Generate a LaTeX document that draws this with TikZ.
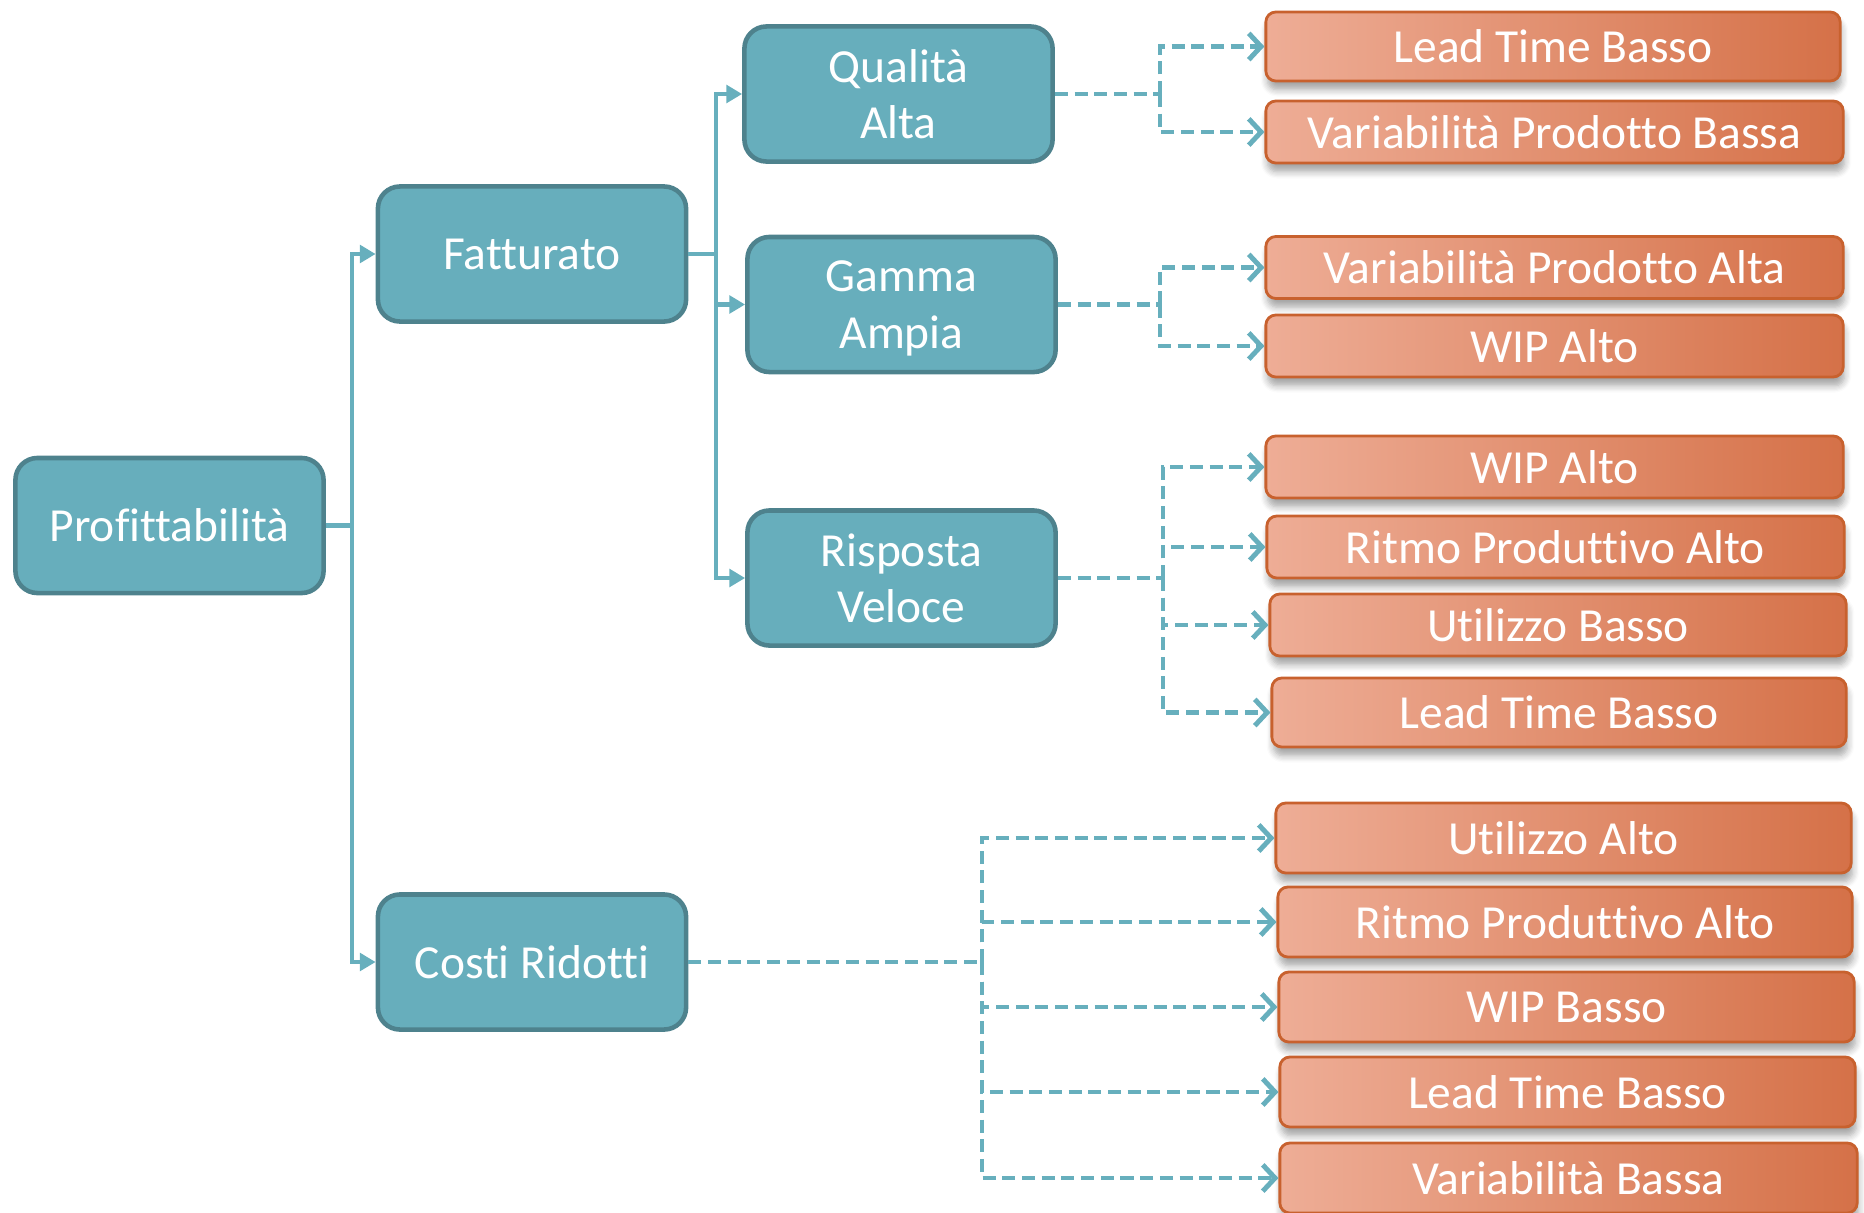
\documentclass[tikz,border=0pt]{standalone}
\usepackage{fontspec}
\setmainfont{Carlito}[Ligatures=NoCommon]
\usetikzlibrary{arrows.meta,shadows,shadows.blur}

\definecolor{tealF}{HTML}{67AEBC}
\definecolor{tealB}{HTML}{4E828D}
\definecolor{lineC}{HTML}{67AFBD}
\definecolor{orL}{HTML}{EEAD96}
\definecolor{orR}{HTML}{D57148}
\definecolor{orB}{HTML}{C8612E}

\tikzset{
 tbox/.style={draw=tealB, fill=tealF, line width=1.3pt, rounded corners=0.22cm,
   minimum width=3.08cm, minimum height=1.35cm, text=white, align=center,
   font=\fontsize{13.5}{16}\selectfont, inner sep=0pt},
 obox/.style={draw=orB, left color=orL, right color=orR, line width=0.8pt,
   rounded corners=0.1cm, text=white, font=\fontsize{13.5}{16}\selectfont, inner sep=0pt,
   blur shadow={shadow xshift=0.4pt, shadow yshift=-2.5pt, shadow blur steps=6, shadow opacity=35}},
 conn/.style={draw=lineC, line width=1.25pt},
 sarr/.style={conn, -{Triangle[length=4.5pt,width=5pt]}},
 dline/.style={draw=lineC, line width=1.4pt, dash pattern=on 3.7pt off 1.9pt},
 darr/.style={dline, -{Straight Barb[length=3.5pt,width=7.5pt,line width=1.4pt]}},
}

\begin{document}
\begin{tikzpicture}[x=0.01cm,y=-0.01cm]
\useasboundingbox (0,0) rectangle (1864,1212);

% teal nodes
\node[tbox] (prof)  at (169.5,525.5) {Profittabilità};
\node[tbox] (fat)   at (532,254) {Fatturato};
\node[tbox] (costi) at (532,962) {Costi Ridotti};
\node[tbox] (qual)  at (898.5,94) {Qualità\\Alta};
\node[tbox, text depth=0pt] (gamma) at (901.5,304.5) {Gamma\\Ampia};
\node[tbox] (risp)  at (901.5,578) {Risposta\\Veloce};

% orange nodes
\node[obox, minimum width=5.74cm, minimum height=0.69cm] (o1)  at (1553,46.5) {Lead Time Basso};
\node[obox, minimum width=5.77cm, minimum height=0.62cm] (o2)  at (1554.5,132) {Variabilità Prodotto Bassa};
\node[obox, minimum width=5.77cm, minimum height=0.62cm] (o3)  at (1554.5,267.5) {Variabilità Prodotto Alta};
\node[obox, minimum width=5.77cm, minimum height=0.62cm] (o4)  at (1554.5,346) {WIP Alto};
\node[obox, minimum width=5.77cm, minimum height=0.62cm] (o5)  at (1554.5,467) {WIP Alto};
\node[obox, minimum width=5.77cm, minimum height=0.62cm] (o6)  at (1555.5,547) {Ritmo Produttivo Alto};
\node[obox, minimum width=5.76cm, minimum height=0.62cm] (o7)  at (1558,625) {Utilizzo Basso};
\node[obox, minimum width=5.74cm, minimum height=0.69cm] (o8)  at (1559,712.5) {Lead Time Basso};
\node[obox, minimum width=5.75cm, minimum height=0.70cm] (o9)  at (1563.5,838) {Utilizzo Alto};
\node[obox, minimum width=5.74cm, minimum height=0.70cm] (o10) at (1565,922) {Ritmo Produttivo Alto};
\node[obox, minimum width=5.75cm, minimum height=0.70cm] (o11) at (1566.5,1007) {WIP Basso};
\node[obox, minimum width=5.75cm, minimum height=0.70cm] (o12) at (1567.5,1092) {Lead Time Basso};
\node[obox, minimum width=5.77cm, minimum height=0.70cm] (o13) at (1568.5,1178) {Variabilità Bassa};

% solid connectors
\coordinate (trunk) at (352,525.5);
\draw[conn] (prof.east) -- (trunk);
\draw[sarr] (trunk) |- (fat.west);
\draw[sarr] (trunk) |- (costi.west);

\coordinate (fj) at (716,254);
\draw[conn] (fat.east) -- (fj);
\draw[sarr] (fj) |- (qual.west);
\draw[sarr] (fj) |- (gamma.west);
\draw[sarr] (fj) |- (risp.west);

% dashed connectors
\coordinate (qj) at (1160,94);
\draw[dline] (qual.east) -- (qj);
\draw[darr] (qj) |- (o1.west);
\draw[darr] (qj) |- (o2.west);

\coordinate (gj) at (1160,304.5);
\draw[dline] (gamma.east) -- (gj);
\draw[darr] (gj) |- (o3.west);
\draw[darr] (gj) |- (o4.west);

\coordinate (rj) at (1163,578);
\draw[dline] (risp.east) -- (rj);
\draw[darr] (rj) |- (o5.west);
\draw[darr] (rj) |- (o6.west);
\draw[darr] (rj) |- (o7.west);
\draw[darr] (rj) |- (o8.west);

\coordinate (cj) at (982,962);
\draw[dline] (costi.east) -- (cj);
\draw[darr] (cj) |- (o9.west);
\draw[darr] (cj) |- (o10.west);
\draw[darr] (cj) |- (o11.west);
\draw[darr] (cj) |- (o12.west);
\draw[darr] (cj) |- (o13.west);
\end{tikzpicture}
\end{document}
